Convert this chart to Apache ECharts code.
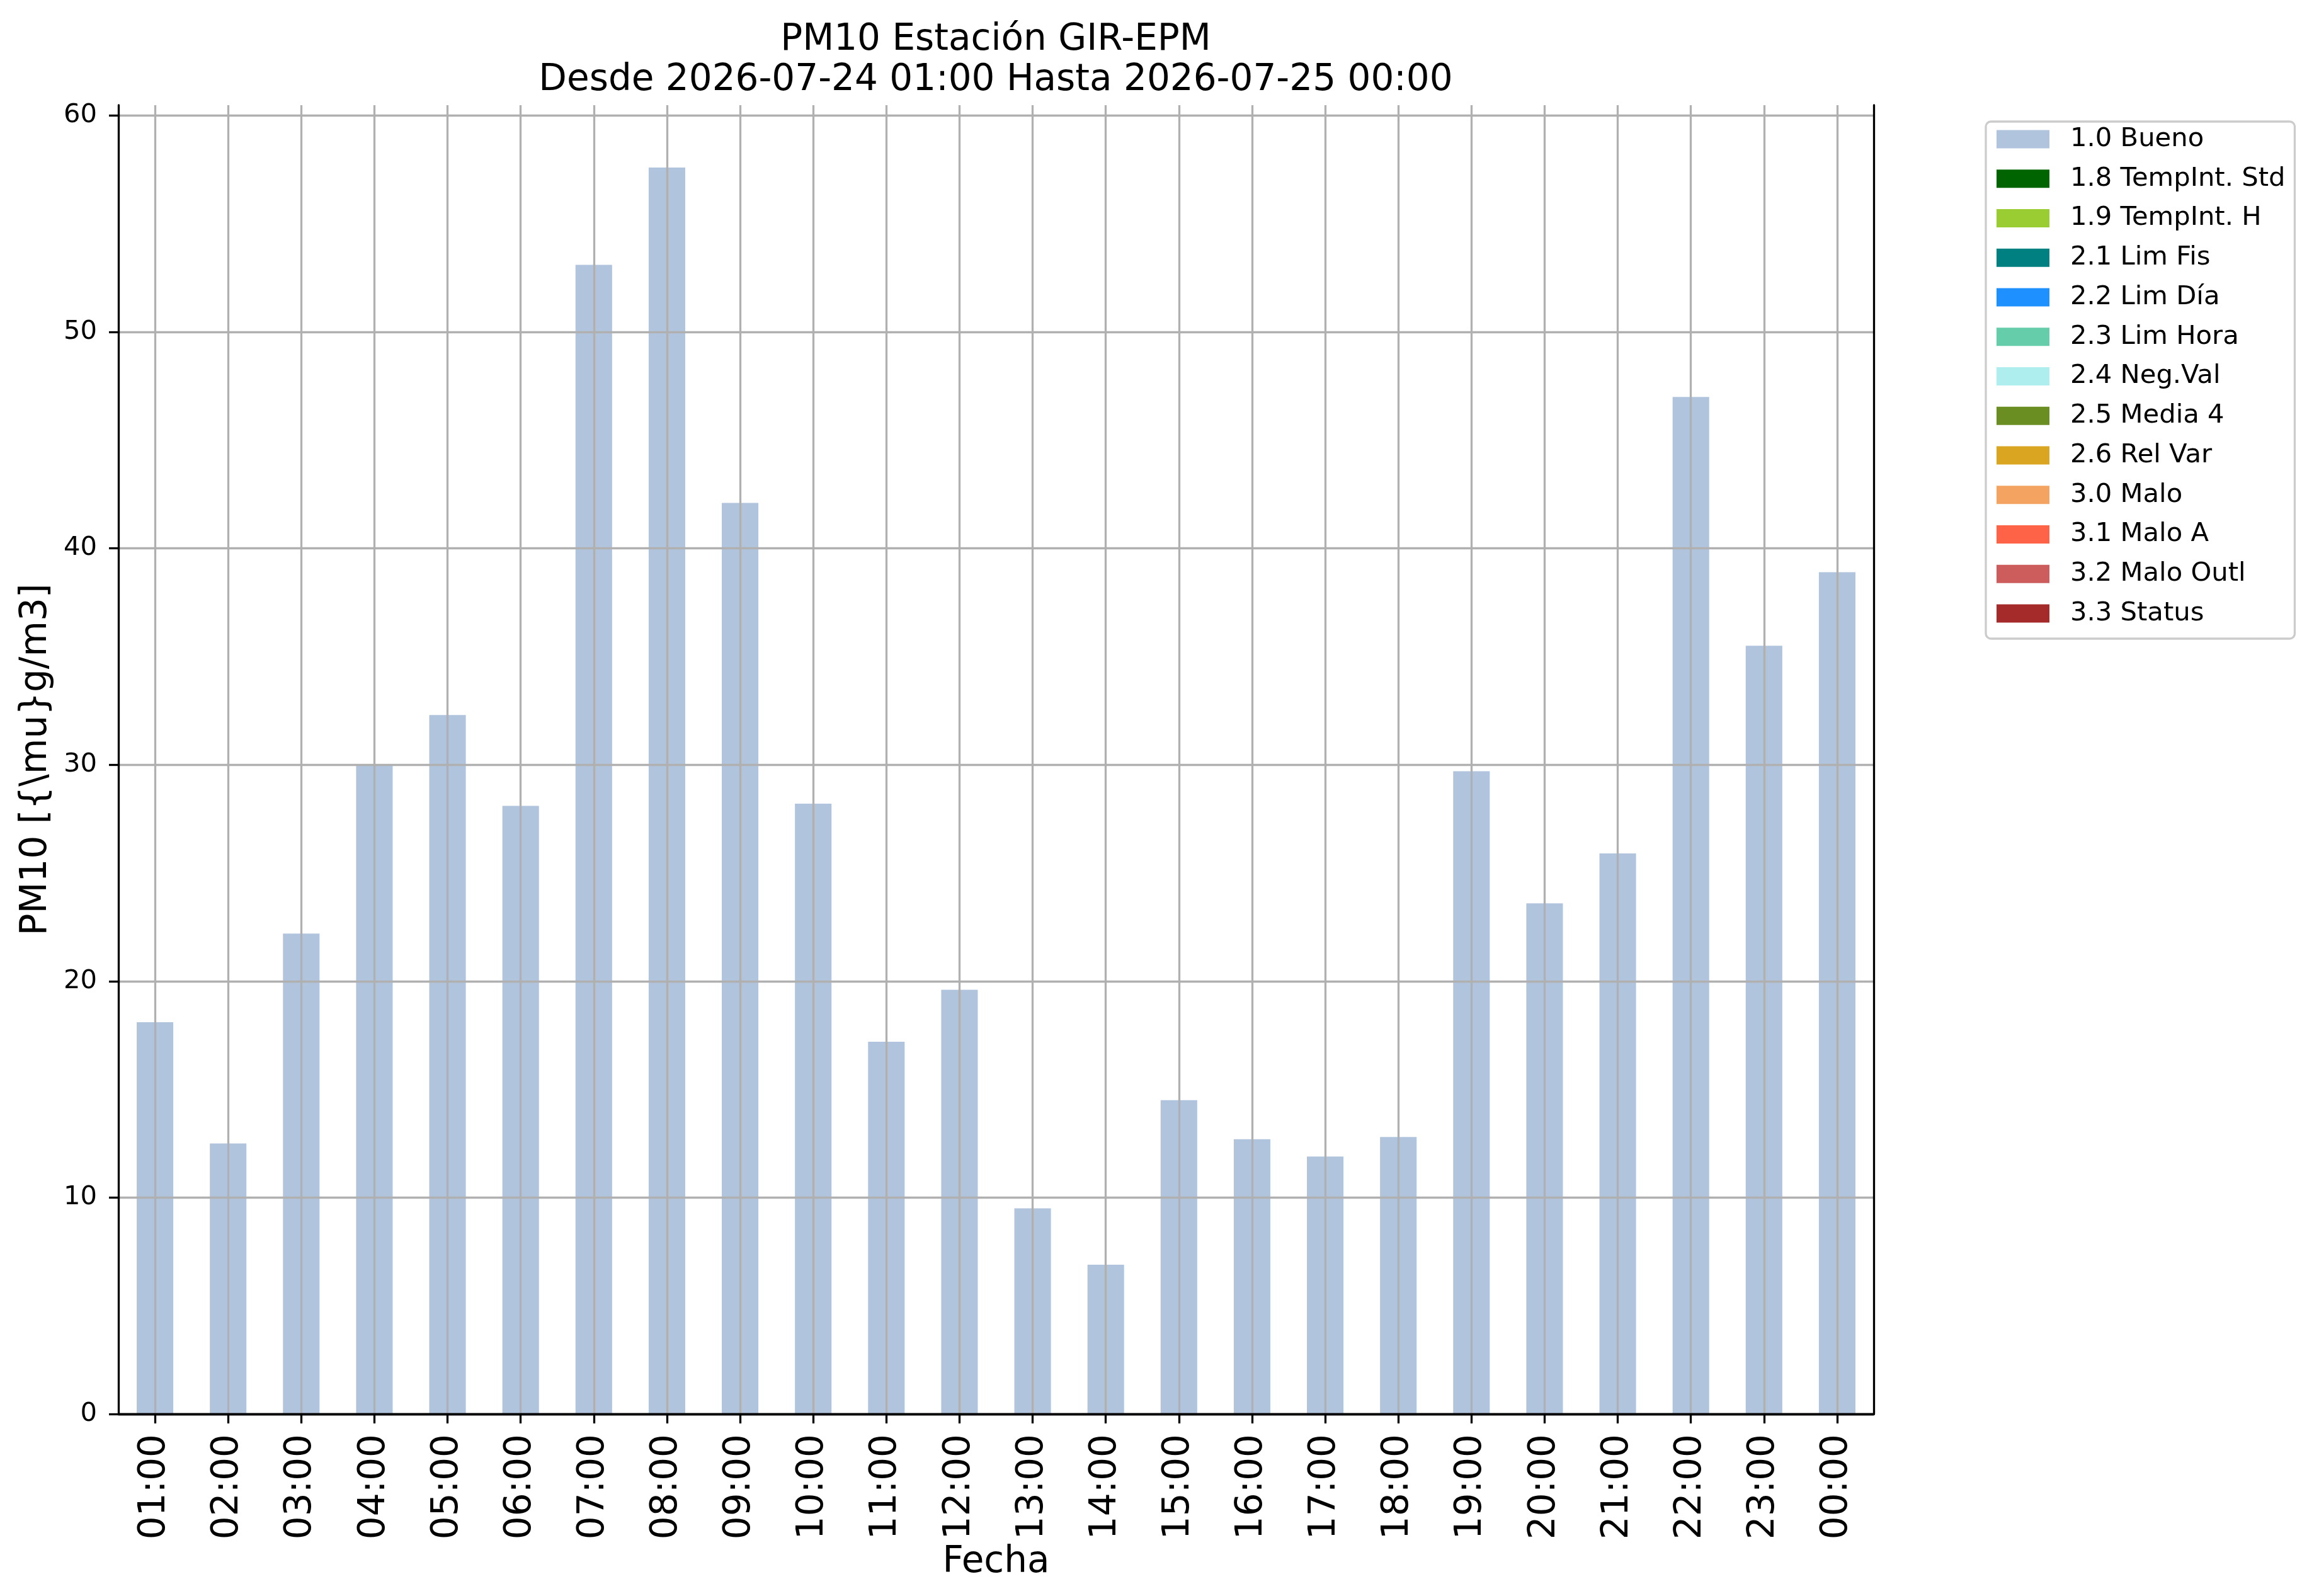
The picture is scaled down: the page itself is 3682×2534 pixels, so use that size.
<!DOCTYPE html>
<html>
<head>
<meta charset="utf-8">
<script src="https://cdn.jsdelivr.net/npm/echarts@6/dist/echarts.min.js"></script>
<style>
html,body{margin:0;padding:0;background:#fff;}
#chart{width:3682px;height:2534px;}
</style>
</head>
<body>
<div id="chart"></div>
<script>
var categories = ['01:00','02:00','03:00','04:00','05:00','06:00','07:00','08:00','09:00','10:00','11:00','12:00','13:00','14:00','15:00','16:00','17:00','18:00','19:00','20:00','21:00','22:00','23:00','00:00'];
var buenoValues = [18.1,12.5,22.2,30.0,32.3,28.1,53.1,57.6,42.1,28.2,17.2,19.6,9.5,6.9,14.5,12.7,11.9,12.8,29.7,23.6,25.9,47.0,35.5,38.9];
var seriesNames = ['1.0 Bueno','1.8 TempInt. Std','1.9 TempInt. H','2.1 Lim Fis','2.2 Lim Día','2.3 Lim Hora','2.4 Neg.Val','2.5 Media 4','2.6 Rel Var','3.0 Malo','3.1 Malo A','3.2 Malo Outl','3.3 Status'];
var seriesColors = ['#B0C4DE','#006400','#9ACD32','#008080','#1E90FF','#66CDAA','#AFEEEE','#6B8E23','#DAA520','#F4A460','#FF6347','#CD5C5C','#A52A2A'];
var seriesValues = [buenoValues, [], [], [], [], [], [], [], [], [], [], [], []];
var yTicks = [0,10,20,30,40,50,60];

var FONT = 'DejaVu Sans';
var LW = 3.3;
var chart = echarts.init(document.getElementById('chart'), null, {renderer:'canvas', width:3682, height:2534, devicePixelRatio:1});

var series = seriesNames.map(function(name, i){
  var s = {
    name: name,
    type: 'bar',
    stack: 'total',
    barWidth: '50%',
    data: seriesValues[i],
    itemStyle: {color: seriesColors[i]},
    xAxisIndex: 0, yAxisIndex: 0,
    animation: false
  };
  if (i === 0) {
    s.markLine = {
      silent: true,
      symbol: ['none','none'],
      label: {show:false},
      lineStyle: {color:'#b0b0b0', width: LW, type:'solid'},
      z: 5,
      animation: false,
      data: categories.map(function(c){ return {xAxis: c}; })
    };
  }
  return s;
});

var option = {
  animation: false,
  backgroundColor: '#ffffff',
  textStyle: {fontFamily: FONT, color:'#000'},
  title: {
    text: 'PM10 Estación GIR-EPM\nDesde 2026-07-24 01:00 Hasta 2026-07-25 00:00',
    left: 1581, top: 32, padding: 0, textAlign: 'center',
    textStyle: {fontFamily: FONT, fontSize: 58, fontWeight:'normal', color:'#000', lineHeight: 64}
  },
  legend: {
    orient: 'vertical',
    left: 3153, top: 193,
    padding: [7, 15, 19, 17],
    itemWidth: 84, itemHeight: 29, itemGap: 20.75,
    icon: 'rect',
    selectedMode: false,
    borderColor: '#cccccc', borderWidth: LW, borderRadius: 8,
    backgroundColor: '#ffffff',
    data: seriesNames,
    textStyle: {fontFamily: FONT, fontSize: 41.7, color:'#000', lineHeight: 42, padding:[0,0,0,28]}
  },
  grid: {left: 188, top: 167, width: 2787, height: 2078, containLabel: false, show: false},
  xAxis: [{
    type: 'category', data: categories, position: 'bottom', z: 10,
    boundaryGap: true,
    axisLine: {show:true, lineStyle:{color:'#000', width: LW}},
    axisTick: {show:true, alignWithLabel:true, length: 15, inside:false, lineStyle:{color:'#000', width: LW}},
    axisLabel: {rotate: 90, margin: 32, fontSize: 58, fontFamily: FONT, color:'#000', interval: 0},
    splitLine: {show:false},
    name: 'Fecha', nameLocation: 'middle', nameGap: 186,
    nameTextStyle: {fontFamily: FONT, fontSize: 58, color:'#000'}
  },{
    type: 'category', data: categories, position: 'top', z: 10,
    axisLine: {show:true, lineStyle:{color:'#000', width: LW}},
    axisTick: {show:false}, axisLabel: {show:false}, splitLine: {show:false}
  }],
  yAxis: [{
    type: 'value', min: 0, max: 60.48, interval: 10, position: 'left', z: 3,
    axisLine: {show:true, onZero:false, lineStyle:{color:'#000', width: LW}},
    axisTick: {show:true, length: 15, inside:false, customValues: yTicks, lineStyle:{color:'#000', width: LW}},
    axisLabel: {fontSize: 41.7, fontFamily: FONT, color:'#000', margin: 34, customValues: yTicks,
      formatter: function(v){ return (Math.abs(v % 10) < 1e-9) ? String(v) : ''; }},
    splitLine: {show:true, lineStyle:{color:'#b0b0b0', width: LW}},
    name: 'PM10 [{\\mu}g/m3]', nameLocation: 'middle', nameRotate: 90, nameGap: 101,
    nameTextStyle: {fontFamily: FONT, fontSize: 58, color:'#000'}
  },{
    type: 'value', min: 0, max: 60.48, position: 'right', z: 10,
    axisLine: {show:true, onZero:false, lineStyle:{color:'#000', width: LW}},
    axisTick: {show:false}, axisLabel: {show:false}, splitLine: {show:false}
  }],
  series: series
};
chart.setOption(option);
</script>
</body>
</html>
